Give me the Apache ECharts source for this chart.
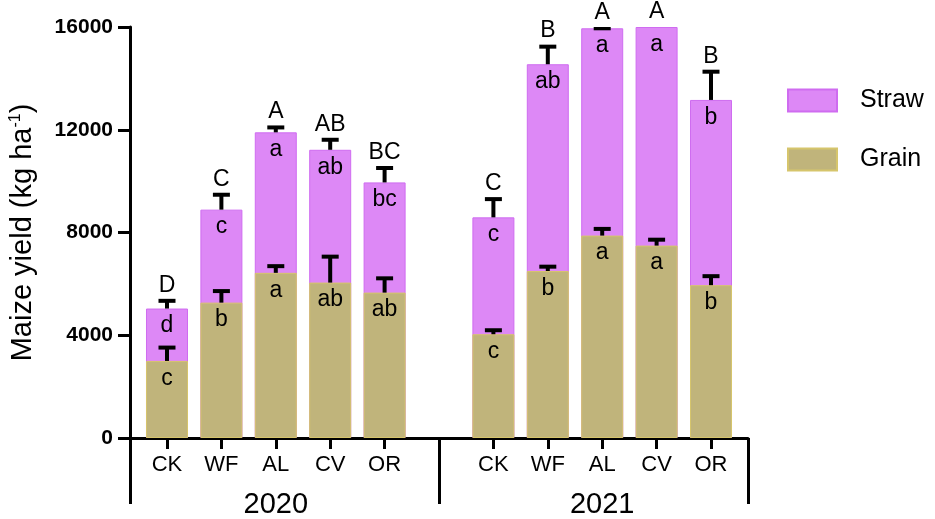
<!DOCTYPE html>
<html lang="en">
<head>
<meta charset="UTF-8">
<title>Maize yield</title>
<script src="https://cdn.jsdelivr.net/npm/echarts@6/dist/echarts.min.js"></script>
<style>
  html, body { margin: 0; padding: 0; background: #fff; }
  #chart { width: 935px; height: 519px; }
</style>
</head>
<body>
<div id="chart"></div>
<script>
// treatments, position on the x axis (5 is the gap between the two years)
const labels = ['CK', 'WF', 'AL', 'CV', 'OR', 'CK', 'WF', 'AL', 'CV', 'OR'];
const xPos = [0, 1, 2, 3, 4, 6, 7, 8, 9, 10];
const years = ['2020', '2021'];
const yearPos = [2, 8];

// kg/ha
// grain = lower segment, total = top of the straw segment (grain + straw)
const grain = [3000, 5270, 6430, 6050, 5660, 4040, 6500, 7880, 7490, 5950];
const grainErr = [520, 450, 260, 1010, 556, 155, 170, 260, 230, 350];
const total = [5040, 8890, 11900, 11220, 9950, 8590, 14550, 15950, 16000, 13160];
const totalErr = [300, 580, 190, 390, 560, 710, 685, 0, 300, 1100];

const grainLetters = ['c', 'b', 'a', 'ab', 'ab', 'c', 'b', 'a', 'a', 'b'];
const strawLetters = ['d', 'c', 'a', 'ab', 'bc', 'c', 'ab', 'a', 'a', 'b'];
const totalLetters = ['D', 'C', 'A', 'AB', 'BC', 'C', 'B', 'A', 'A', 'B'];

const yTicks = { min: 0, max: 16000, interval: 4000 };

const FONT = 'Liberation Sans, Arial, sans-serif';
const GRAIN_COLOR = '#c0b47b';
const STRAW_COLOR = '#dd88f6';
const X_MIN = -0.68, X_MAX = 10.68;

const chart = echarts.init(document.getElementById('chart'));

// error bar: stem from segment top up by err, with a cap
function errorBar(params, api) {
  const x = api.value(0), base = api.value(1), err = api.value(2);
  const p0 = api.coord([x, base]);
  const p1 = api.coord([x, base + err]);
  const half = 8.5;
  const style = { stroke: '#000', lineWidth: 4 };
  return {
    type: 'group',
    children: [
      { type: 'line', shape: { x1: p0[0], y1: p0[1], x2: p1[0], y2: p1[1] }, style },
      { type: 'line', shape: { x1: p1[0] - half, y1: p1[1], x2: p1[0] + half, y2: p1[1] }, style }
    ]
  };
}

const grainData = xPos.map((x, i) => [x, grain[i]]);
const totalData = xPos.map((x, i) => [x, total[i]]);
const grainErrData = xPos.map((x, i) => [x, grain[i], grainErr[i]]);
const totalErrData = xPos.map((x, i) => [x, total[i], totalErr[i]]);

const segLabel = letters => ({
  show: true,
  position: 'insideTop',
  distance: 6,
  fontSize: 23,
  color: '#000',
  fontFamily: FONT,
  formatter: p => letters[p.dataIndex]
});

chart.setOption({
  backgroundColor: '#fff',
  animation: false,
  textStyle: { fontFamily: FONT },
  grid: { left: 128, right: 187, top: 27, bottom: 80 },
  legend: {
    orient: 'vertical',
    left: 787,
    top: 88,
    padding: 0,
    itemWidth: 49,
    itemHeight: 22,
    itemGap: 34,
    icon: 'rect',
    data: ['Straw', 'Grain'],
    textStyle: { fontSize: 25, color: '#000', fontFamily: FONT, padding: [0, 0, 0, 18] }
  },
  xAxis: [
    {
      type: 'value',
      min: X_MIN,
      max: X_MAX,
      position: 'bottom',
      axisLine: { show: true, onZero: false, lineStyle: { color: '#000', width: 3 } },
      axisTick: { show: true, customValues: xPos, length: 11, lineStyle: { color: '#000', width: 3 } },
      axisLabel: {
        show: true,
        customValues: xPos,
        margin: 16,
        fontSize: 22,
        color: '#000',
        fontFamily: FONT,
        formatter: v => labels[xPos.indexOf(Math.round(v))] || ''
      },
      splitLine: { show: false }
    },
    {
      type: 'value',
      min: X_MIN,
      max: X_MAX,
      position: 'bottom',
      offset: 0,
      axisLine: { show: false, onZero: false },
      axisTick: { show: true, customValues: [X_MIN, 5, X_MAX], length: 66, lineStyle: { color: '#000', width: 3 } },
      axisLabel: {
        show: true,
        customValues: yearPos,
        margin: 52,
        fontSize: 29,
        color: '#000',
        fontFamily: FONT,
        formatter: v => years[yearPos.indexOf(Math.round(v))] || ''
      },
      splitLine: { show: false }
    }
  ],
  yAxis: {
    type: 'value',
    min: yTicks.min,
    max: yTicks.max,
    interval: yTicks.interval,
    axisLine: { show: true, onZero: false, lineStyle: { color: '#000', width: 3 } },
    axisTick: { show: true, length: 12, lineStyle: { color: '#000', width: 3 } },
    axisLabel: {
      fontSize: 21,
      fontWeight: 'bold',
      color: '#000',
      margin: 17,
      fontFamily: FONT,
      formatter: v => String(v)
    },
    splitLine: { show: false },
    name: '{n|Maize yield (kg ha}{s|-1}{n|)}',
    nameLocation: 'middle',
    nameRotate: 90,
    nameGap: 92,
    nameTextStyle: {
      rich: {
        n: { fontSize: 29, color: '#000', fontFamily: FONT },
        s: { fontSize: 16, color: '#000', fontFamily: FONT, verticalAlign: 'top', padding: [0, 0, 14, 0] }
      }
    }
  },
  series: [
    {
      name: 'Straw',
      type: 'bar',
      barWidth: 42,
      barGap: '-100%',
      data: totalData,
      itemStyle: { color: STRAW_COLOR, borderColor: '#cf6cf0', borderWidth: 1 },
      label: segLabel(strawLetters)
    },
    {
      name: 'Grain',
      type: 'bar',
      barWidth: 42,
      barGap: '-100%',
      data: grainData,
      itemStyle: { color: GRAIN_COLOR, borderColor: '#d6c56c', borderWidth: 1 },
      label: segLabel(grainLetters)
    },
    {
      type: 'custom',
      name: 'grainErr',
      renderItem: errorBar,
      data: grainErrData,
      clip: true,
      z: 5,
      encode: { x: 0, y: 1 }
    },
    {
      type: 'custom',
      name: 'totalErr',
      renderItem: errorBar,
      data: totalErrData,
      clip: true,
      z: 5,
      encode: { x: 0, y: 1 }
    },
    {
      type: 'custom',
      name: 'totalLetters',
      clip: false,
      z: 6,
      data: totalErrData,
      encode: { x: 0, y: 1 },
      renderItem: (params, api) => {
        const x = api.value(0);
        const top = Math.min(api.value(1) + api.value(2), yTicks.max);
        const p = api.coord([x, top]);
        return {
          type: 'text',
          style: {
            x: p[0],
            y: p[1] - 4,
            text: totalLetters[params.dataIndex],
            fontSize: 23,
            fontFamily: FONT,
            fill: '#000',
            align: 'center',
            verticalAlign: 'bottom'
          }
        };
      }
    }
  ]
});
</script>
</body>
</html>
